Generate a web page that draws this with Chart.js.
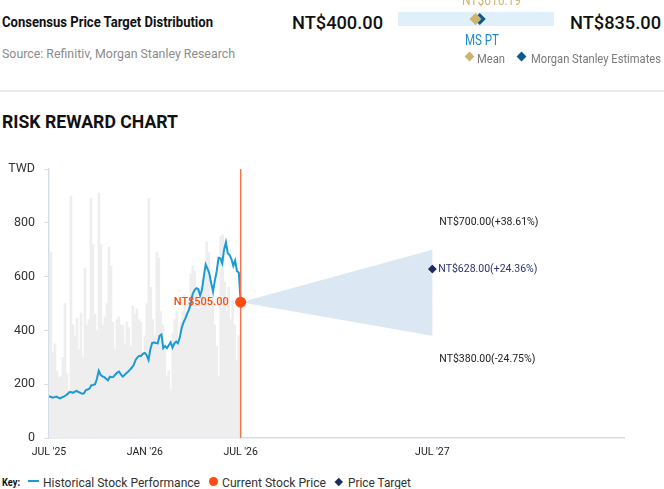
<!DOCTYPE html>
<html><head><meta charset="utf-8">
<script src="https://cdn.jsdelivr.net/npm/chart.js@4.4.1/dist/chart.umd.min.js"></script>
<style>
html,body{margin:0;padding:0;background:#fff;}
#wrap{position:relative;width:664px;height:489px;overflow:hidden;font-family:Roboto,'Noto Sans',sans-serif;}
.t{position:absolute;white-space:nowrap;line-height:1;transform-origin:0 50%;}
.dia{position:absolute;width:7px;height:7px;transform:rotate(45deg);}
</style></head><body>
<div id="wrap">
  <div class="t fit" data-w="211" style="left:2px;top:13px;font:bold 15px Roboto;color:#111">Consensus Price Target Distribution</div>
  <div class="t fit" data-w="233" style="left:2px;top:45px;font:13.5px Roboto;color:#8c8c8c">Source: Refinitiv, Morgan Stanley Research</div>
  <div class="t fit" id="lowLbl" data-w="91" style="left:292px;top:11px;font:500 19px Roboto;color:#111"></div>
  <div class="t fit" id="highLbl" data-w="91" style="left:570px;top:11px;font:500 19px Roboto;color:#111"></div>
  <div style="position:absolute;left:392px;top:4px;width:168px;height:30px"><canvas id="mc"></canvas></div>
  <div class="t fit" id="meanLbl" data-w="59" style="left:462px;top:-8px;font:14px Roboto;color:#cdb56f"></div>
  <div class="t fit" data-w="34" style="left:465px;top:31px;font:15px Roboto;color:#1f8ac9">MS PT</div>
  <div class="dia" style="left:466px;top:53px;background:#cdb56f"></div>
  <div class="t fit" data-w="28" style="left:477px;top:51px;font:13px Roboto;color:#7a7a7a">Mean</div>
  <div class="dia" style="left:518px;top:53px;background:#0b5a95"></div>
  <div class="t fit" data-w="130" style="left:531px;top:51px;font:13px Roboto;color:#7a7a7a">Morgan Stanley Estimates</div>
  <div style="position:absolute;left:0;top:90px;width:664px;height:2px;background:#ececec"></div>
  <div class="t fit" data-w="176" style="left:2px;top:110px;font:bold 19px Roboto;color:#111">RISK REWARD CHART</div>
  <div style="position:absolute;left:0;top:150px;width:664px;height:315px"><canvas id="cc"></canvas></div>
  <div class="t fit" data-w="18" style="left:2px;top:476px;font:bold 11px Roboto;color:#111">Key:</div>
  <div style="position:absolute;left:28px;top:480px;width:11px;height:2px;background:#1b9ad6"></div>
  <div class="t fit" data-w="157" style="left:43px;top:474px;font:13.5px Roboto;color:#333">Historical Stock Performance</div>
  <div style="position:absolute;left:208.5px;top:476.5px;width:9px;height:9px;border-radius:50%;background:#ff4a12"></div>
  <div class="t fit" data-w="104" style="left:222px;top:474px;font:13.5px Roboto;color:#333">Current Stock Price</div>
  <div style="position:absolute;left:335.5px;top:478.5px;width:5.5px;height:5.5px;transform:rotate(45deg);background:#1f2a5e"></div>
  <div class="t fit" data-w="63" style="left:348px;top:474px;font:13.5px Roboto;color:#333">Price Target</div>
</div>
<script>
// ---- consensus distribution ----
const consensusLow = 400.00;
const consensusHigh = 835.00;
const consensusMean = 616.19;
const msPriceTarget = 628.00;

// ---- risk reward ----
const currentPrice = 505.00;
const currentMonth = 12;          // months since JUL '25
const targetMonth = 24;
const bullValue = 700.00;
const baseValue = 628.00;
const bearValue = 380.00;

const tickMonths = [0, 6, 12, 24];
const tickLabels = ["JUL '25", "JAN '26", "JUL '26", "JUL '27"];
const yTicks = [0, 200, 400, 600, 800, 1000];

// half-weekly prices, JUL '25 -> JUL '26
const histPrice = [154,153,150,152,154,150,147,151,154,158,163,170,171,168,172,175,171,168,165,166,
  178,180,184,196,197,200,220,250,235,229,226,220,214,228,226,227,236,243,247,236,
  228,234,241,247,254,262,272,290,300,306,305,314,316,308,290,330,354,355,353,352,
  380,385,334,342,334,345,356,336,352,358,352,375,410,430,445,462,478,503,536,550,
  557,553,530,550,600,645,630,612,575,545,585,620,670,668,650,700,728,687,680,665,
  640,660,620,615,505];
// background bars (every 1/8 month)
const bgBars = [700,690,320,350,250,225,230,300,500,240,180,900,420,380,445,330,465,300,630,420,440,890,720,460,400,910,720,420,450,500,710,640,430,330,440,450,420,420,350,430,410,340,490,460,480,440,430,300,380,500,890,560,440,380,690,670,470,420,330,230,250,180,390,440,470,350,430,470,530,450,500,610,640,620,560,480,560,590,600,730,690,480,550,420,340,230,750,755,580,470,560,440,510,420,290,380];

const priceStep = 6 / 52;
const barStep = 1 / 8;

const fmt = v => 'NT$' + v.toFixed(2);
document.getElementById('lowLbl').textContent = fmt(consensusLow);
document.getElementById('highLbl').textContent = fmt(consensusHigh);
document.getElementById('meanLbl').textContent = fmt(consensusMean);

document.querySelectorAll('.fit').forEach(el => {
  const w = parseFloat(el.dataset.w);
  const cw = el.getBoundingClientRect().width;
  if (cw > 0) el.style.transform = 'scaleX(' + (w / cw) + ')';
});

// mini distribution chart
new Chart(document.getElementById('mc'), {
  type: 'scatter',
  data: { datasets: [
    { type: 'line', data: [{x: consensusLow, y: 0.5}, {x: consensusHigh, y: 0.5}], borderColor: '#dff0fa', borderWidth: 14, borderCapStyle: 'butt', pointRadius: 0, order: 3 },
    { data: [{x: msPriceTarget, y: 0.5}], pointStyle: 'rectRot', pointRadius: 6, backgroundColor: '#0b5a95', borderWidth: 0, order: 2 },
    { data: [{x: consensusMean, y: 0.5}], pointStyle: 'rectRot', pointRadius: 6, backgroundColor: '#cdb56f', borderWidth: 0, order: 1 }
  ]},
  options: {
    responsive: true, maintainAspectRatio: false, animation: false,
    layout: { padding: 0 },
    plugins: { legend: { display: false }, tooltip: { enabled: false } },
    scales: {
      x: { type: 'linear', min: consensusLow, max: consensusHigh, display: false },
      y: { min: 0, max: 1, display: false }
    }
  }
});

// main chart
const pricePts = histPrice.map((v, i) => ({x: i * priceStep, y: v}));
const barPts = bgBars.map((v, i) => ({x: i * barStep, y: v}));

const labelPlugin = {
  id: 'labels',
  afterDatasetsDraw(chart) {
    const {ctx, scales: {x, y}} = chart;
    ctx.save();
    ctx.textBaseline = 'middle';
    ctx.font = '500 11px Roboto';
    ctx.fillStyle = '#ff4a12';
    ctx.textAlign = 'right';
    ctx.fillText(fmt(currentPrice), x.getPixelForValue(currentMonth) - 12, y.getPixelForValue(currentPrice));
    ctx.textAlign = 'left';
    ctx.font = '10.5px Roboto';
    const pct = v => { const p = (v / currentPrice - 1) * 100; return (p >= 0 ? '+' : '') + p.toFixed(2) + '%'; };
    const tx = x.getPixelForValue(targetMonth) + 7;
    ctx.fillStyle = '#222';
    ctx.fillText(fmt(bullValue) + '(' + pct(bullValue) + ')', tx, y.getPixelForValue(bullValue) - 27);
    ctx.fillText(fmt(bearValue) + '(' + pct(bearValue) + ')', tx, y.getPixelForValue(bearValue) + 24);
    ctx.fillStyle = '#2a3370';
    ctx.fillText(fmt(baseValue) + '(' + pct(baseValue) + ')', tx - 1, y.getPixelForValue(baseValue));
    ctx.restore();
  }
};

new Chart(document.getElementById('cc'), {
  type: 'scatter',
  data: { datasets: [
    { type: 'bar', data: barPts, backgroundColor: '#eeeeee', barThickness: 2, grouped: false, order: 6 },
    { type: 'line', data: [{x: currentMonth, y: currentPrice}, {x: targetMonth, y: bullValue}, {x: targetMonth, y: bearValue}, {x: currentMonth, y: currentPrice}],
      fill: 'shape', backgroundColor: '#dbe8f4', borderWidth: 0, borderColor: 'rgba(0,0,0,0)', pointRadius: 0, order: 5 },
    { type: 'line', data: pricePts, borderColor: '#1b9ad6', borderWidth: 2, pointRadius: 0, tension: 0, order: 3 },
    { type: 'line', data: [{x: currentMonth, y: 0}, {x: currentMonth, y: 1000}], borderColor: '#f3734f', borderWidth: 1.5, pointRadius: 0, order: 2 },
    { data: [{x: currentMonth, y: currentPrice}], pointRadius: 5.5, backgroundColor: '#ff4a12', borderWidth: 0, order: 1 },
    { data: [{x: targetMonth, y: baseValue}], pointStyle: 'rectRot', pointRadius: 5, backgroundColor: '#1f2a5e', borderColor: '#fff', borderWidth: 1, order: 0 }
  ]},
  options: {
    responsive: true, maintainAspectRatio: false, animation: false,
    layout: { padding: { top: 19, right: 40, left: 0, bottom: 0 } },
    plugins: { legend: { display: false }, tooltip: { enabled: false } },
    scales: {
      x: {
        type: 'linear', min: 0, max: 36, offset: false,
        afterBuildTicks: s => { s.ticks = tickMonths.map(v => ({value: v})); },
        afterFit: s => { s.height = 27; },
        ticks: { callback: v => tickLabels[tickMonths.indexOf(v)], font: {family: 'Roboto', size: 10.5}, color: '#222', padding: 8, maxRotation: 0, autoSkip: false },
        grid: { display: true, drawOnChartArea: false, drawTicks: false, offset: false, color: '#d3deea' },
        border: { display: true, color: '#d3deea', width: 1.5 }
      },
      y: {
        min: 0, max: 1000,
        afterBuildTicks: s => { s.ticks = yTicks.map(v => ({value: v})); },
        afterFit: s => { s.width = 49; },
        ticks: { callback: v => v === 1000 ? 'TWD' : v, font: {family: 'Roboto', size: 12.5}, color: '#333', padding: 9 },
        grid: { display: true, drawOnChartArea: false, drawTicks: true, tickLength: 5, color: '#d3deea' },
        border: { display: true, color: '#d3deea', width: 1.5 }
      }
    }
  },
  plugins: [labelPlugin]
});
</script>
</body></html>
